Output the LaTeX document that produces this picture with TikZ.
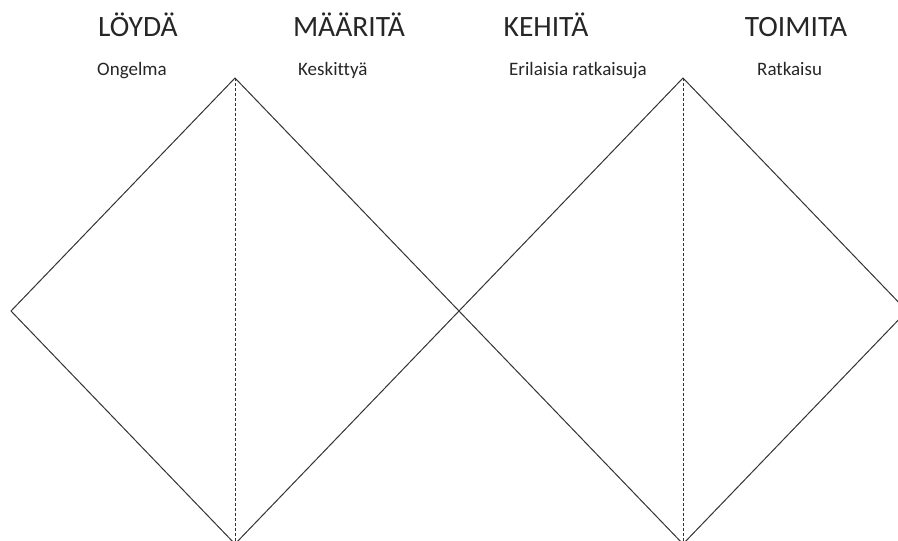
\documentclass[tikz,border=0pt]{standalone}
\usepackage{fontspec}
\setmainfont{Carlito}[Ligatures={NoCommon}]
\usetikzlibrary{positioning}

\begin{document}
\begin{tikzpicture}[
    x=1pt, y=-1pt,
    edge/.style={draw=black!80, line width=1pt, line join=miter},
    axisline/.style={draw=black!80, line width=0.8pt, dash pattern=on 3pt off 2pt},
    phase/.style={font=\fontsize{29.5}{34}\selectfont, text=black!85, anchor=base, inner sep=0pt},
    sub/.style={font=\fontsize{19}{22}\selectfont, text=black!85, anchor=base west, inner sep=0pt},
]
\clip (0,0) rectangle (898,541);
% === Diamond corners ===
\coordinate (west) at (11,311);
\coordinate (top1) at (235,78);
\coordinate (bot1) at (235,544);
\coordinate (mid) at (459,311);
\coordinate (top2) at (683,78);
\coordinate (bot2) at (683,544);
\coordinate (east) at (907,311);
% === Diamonds ===
\draw[edge] (west) -- (top1) -- (mid) -- (bot1) -- cycle;
\draw[edge] (mid) -- (top2) -- (east) -- (bot2) -- cycle;
\draw[axisline] (top1) -- (bot1);
\draw[axisline] (top2) -- (bot2);
% === Phase titles ===
\node[phase] (find) at (138,36) {LÖYDÄ};
\node[phase] (define) at (349,36) {MÄÄRITÄ};
\node[phase] (develop) at (546,36) {KEHITÄ};
\node[phase] (deliver) at (796,36) {TOIMITA};
% === Sub labels ===
\node[sub] (problem) at (97,75) {Ongelma};
\node[sub] (focus) at (298,75) {Keskittyä};
\node[sub] (options) at (509,75) {Erilaisia ratkaisuja};
\node[sub] (solution) at (757,75) {Ratkaisu};
\end{tikzpicture}
\end{document}
